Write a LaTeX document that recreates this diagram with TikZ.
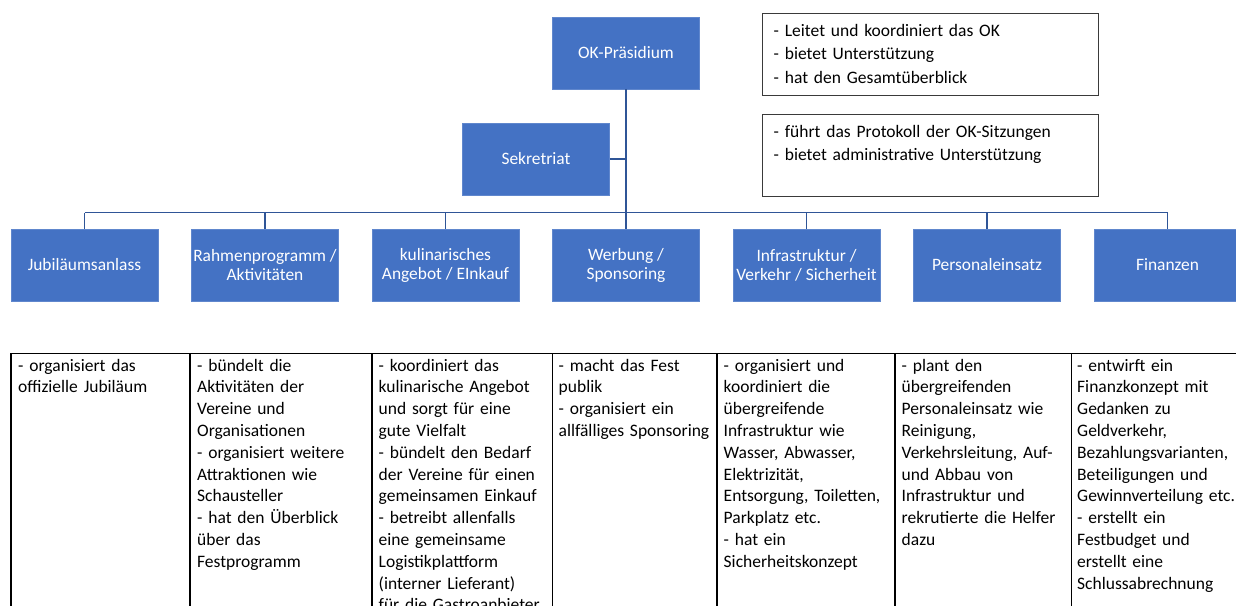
\documentclass[tikz,border=0pt]{standalone}
\usepackage{fontspec}
\setmainfont{Carlito}
\definecolor{okblue}{HTML}{4472C4}
\definecolor{lineblue}{HTML}{2F5597}
\definecolor{frame}{HTML}{3A3A3A}
\begin{document}
\begin{tikzpicture}[x=1pt,y=-1pt,
  orgbox/.style={fill=okblue, draw=okblue!85!white, line width=0.6pt, minimum width=147pt, minimum height=72pt,
    inner sep=0pt, text=white, align=center, font=\fontsize{17.4}{19}\selectfont},
  conn/.style={draw=lineblue, line width=1.9pt},
  infobox/.style={draw=frame, line width=1.4pt, minimum width=336pt, minimum height=82pt, inner sep=0pt, anchor=north west},
  infotext/.style={anchor=base west, inner sep=0pt, text width=320pt, align=left, font=\fontsize{17.5}{23.3}\selectfont},
  celltext/.style={anchor=base west, inner sep=0pt, text width=178pt, align=left, font=\fontsize{17.5}{21.8}\selectfont},
  tableline/.style={draw=black, line width=1.3pt}]
\clip (0,0) rectangle (1236,605);
\fill[white] (0,0) rectangle (1236,605);

% org boxes
\node[orgbox] (ok)  at (626,53)  {OK-Präsidium};
\node[orgbox] (sek) at (536,159) {Sekretriat};
\node[orgbox] (c1) at (84.5,265)  {Jubiläumsanlass};
\node[orgbox] (c2) at (265,265)   {Rahmenprogramm /\\Aktivitäten};
\node[orgbox] (c3) at (445.5,265) {kulinarisches\\Angebot / EInkauf};
\node[orgbox] (c4) at (626,265)   {Werbung /\\Sponsoring};
\node[orgbox] (c5) at (806.5,265) {Infrastruktur /\\Verkehr / Sicherheit};
\node[orgbox] (c6) at (987,265)   {Personaleinsatz};
\node[orgbox] (c7) at (1167.5,265){Finanzen};

% connectors
\coordinate (barL) at (84.5,212.5);
\coordinate (barR) at (1167.5,212.5);
\draw[conn] (barL) -- (barR);
\draw[conn] (ok.south) -- (c4.north);
\draw[conn] (sek.east) -- (sek.east -| ok.south);
\foreach \c in {c1,c2,c3,c5,c6,c7}{
  \draw[conn] (\c.north) -- (\c.north |- barL);
}

% info boxes
\node[infobox] (info1) at (761.5,12.7) {};
\node[infotext] (info1t) at (773.5,36.5) {- Leitet und koordiniert das OK\\- bietet Unterstützung\\- hat den Gesamtüberblick};
\node[infobox] (info2) at (761.5,114) {};
\node[infotext] (info2t) at (773.5,137.5) {- führt das Protokoll der OK-Sitzungen\\- bietet administrative Unterstützung};

% table lines
\draw[tableline] (11,353.3) -- (1240,353.3);
\foreach \x in {11,190,372,552.5,717,895,1071.5}{
  \draw[tableline] (\x,353.3) -- (\x,610);
}

% table texts
\node[celltext] (t1) at (18,371) {- organisiert das\\offizielle Jubiläum};
\node[celltext] (t2) at (197,371) {- bündelt die\\Aktivitäten der\\Vereine und\\Organisationen\\- organisiert weitere\\Attraktionen wie\\Schausteller\\- hat den Überblick\\über das\\Festprogramm};
\node[celltext] (t3) at (378.5,371) {- koordiniert das\\kulinarische Angebot\\und sorgt für eine\\gute Vielfalt\\- bündelt den Bedarf\\der Vereine für einen\\gemeinsamen Einkauf\\- betreibt allenfalls\\eine gemeinsame\\Logistikplattform\\(interner Lieferant)\\für die Gastroanbieter};
\node[celltext] (t4) at (558.5,371) {- macht das Fest\\publik\\- organisiert ein\\allfälliges Sponsoring};
\node[celltext] (t5) at (723.5,371) {- organisiert und\\koordiniert die\\übergreifende\\Infrastruktur wie\\Wasser, Abwasser,\\Elektrizität,\\Entsorgung, Toiletten,\\Parkplatz etc.\\- hat ein\\Sicherheitskonzept};
\node[celltext] (t6) at (901.5,371) {- plant den\\übergreifenden\\Personaleinsatz wie\\Reinigung,\\Verkehrsleitung, Auf-\\und Abbau von\\Infrastruktur und\\rekrutierte die Helfer\\dazu};
\node[celltext] (t7) at (1077,371) {- entwirft ein\\Finanzkonzept mit\\Gedanken zu\\Geldverkehr,\\Bezahlungsvarianten,\\Beteiligungen und\\Gewinnverteilung etc.\\- erstellt ein\\Festbudget und\\erstellt eine\\Schlussabrechnung};
\end{tikzpicture}
\end{document}
